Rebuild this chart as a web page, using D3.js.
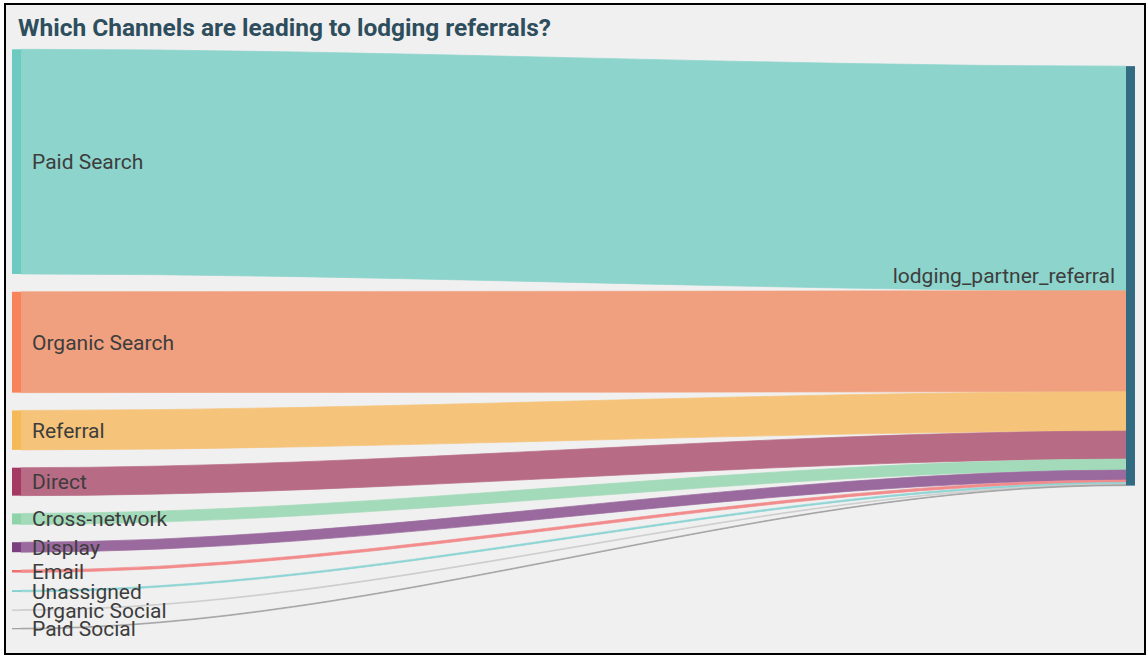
<!DOCTYPE html>
<html>
<head>
<meta charset="utf-8">
<script src="https://cdn.jsdelivr.net/npm/d3@7"></script>
<style>
  html, body { margin: 0; padding: 0; background: #ffffff; }
  svg { display: block; }
  text { font-family: Roboto, "Noto Sans", sans-serif; }
</style>
</head>
<body>
<svg id="chart" width="1147" height="656"></svg>
<script>
// ---- data ----
const title = "Which Channels are leading to lodging referrals?";
const channels = ["Paid Search", "Organic Search", "Referral", "Direct", "Cross-network",
                  "Display", "Email", "Unassigned", "Organic Social", "Paid Social"];
const values = [2250, 1010, 395, 280, 110, 100, 25, 15, 8, 8];
const targetName = "lodging_partner_referral";
const nodeColors = ["#6ccac1", "#f7845a", "#f5b957", "#a43a63", "#8fd3a8",
                    "#7b3f80", "#f07070", "#6cc9cb", "#bdbdbd", "#8e8e8e"];
const linkColors = ["#8dd4cc", "#f0a07e", "#f5c37a", "#b76b85", "#a3dab9",
                    "#9a6a9e", "#f28b8b", "#8ed4d4", "#cbcbcb", "#a0a0a0"];
const targetColor = "#336b82";

// ---- layout ----
const svg = d3.select("#chart");

svg.append("rect").attr("x", 5).attr("y", 4).attr("width", 1140).attr("height", 650)
  .attr("fill", "#f0f0f0").attr("stroke", "#000").attr("stroke-width", 2);

svg.append("text").attr("x", 18).attr("y", 36)
  .attr("font-size", 24.5).attr("font-weight", 700).attr("fill", "#2e4e5d")
  .text(title);

const extentTop = 49.3, extentBottom = 629, pad = 17.8, nodeW = 9;
const x = d3.scaleLinear().domain([0, 1]).range([12, 1126]);
const n = channels.length;
const total = d3.sum(values);
const ky = (extentBottom - extentTop - pad * (n - 1)) / total;
const h = d3.scaleLinear().domain([0, total]).range([0, total * ky]);

let yCur = extentTop;
const nodes = channels.map((name, i) => {
  const node = { name, i, x0: x(0), x1: x(0) + nodeW, y0: yCur, y1: yCur + h(values[i]) };
  yCur = node.y1 + pad;
  return node;
});

// target node: weighted fixed point (links as horizontal as possible)
let off = 0, acc = 0, wsum = 0;
nodes.forEach((nd, i) => {
  const w = h(values[i]);
  acc += w * (nd.y0 - off);
  wsum += w;
  off += w;
});
const tY0 = acc / wsum;
const tNode = { name: targetName, x0: x(1), x1: x(1) + nodeW, y0: tY0, y1: tY0 + h(total) };

let tOff = tNode.y0;
const links = nodes.map((nd, i) => {
  const w = h(values[i]);
  const l = { i, sx: nd.x1, tx: tNode.x0, sy0: nd.y0, sy1: nd.y1, ty0: tOff, ty1: tOff + w, w };
  tOff += w;
  return l;
});

function linkPath(l) {
  const dx = l.tx - l.sx;
  const c1 = l.sx + dx / 3, c2 = l.sx + 2 * dx / 3;
  const p = d3.path();
  p.moveTo(l.sx, l.sy0);
  p.bezierCurveTo(c1, l.sy0, c2, l.ty0, l.tx, l.ty0);
  p.lineTo(l.tx, l.ty1);
  p.bezierCurveTo(c2, l.ty1, c1, l.sy1, l.sx, l.sy1);
  p.closePath();
  return p.toString();
}

svg.append("g").selectAll("path").data(links).join("path")
  .attr("d", linkPath)
  .attr("fill", d => linkColors[d.i])
  .attr("stroke", d => linkColors[d.i])
  .attr("stroke-width", 0.7);

svg.append("g").selectAll("rect").data(nodes).join("rect")
  .attr("x", d => d.x0).attr("y", d => d.y0)
  .attr("width", d => d.x1 - d.x0).attr("height", d => Math.max(1, d.y1 - d.y0))
  .attr("fill", (d, i) => nodeColors[i]);

svg.append("rect").attr("x", tNode.x0).attr("y", tNode.y0)
  .attr("width", nodeW).attr("height", tNode.y1 - tNode.y0).attr("fill", targetColor);

svg.append("g").selectAll("text").data(nodes).join("text")
  .attr("x", d => d.x1 + 11).attr("y", d => (d.y0 + d.y1) / 2)
  .attr("dy", "0.36em").attr("font-size", 21).attr("fill", "#3d3d3d")
  .text(d => d.name);

svg.append("text").attr("x", tNode.x0 - 11).attr("y", (tNode.y0 + tNode.y1) / 2)
  .attr("dy", "0.36em").attr("text-anchor", "end").attr("font-size", 21).attr("fill", "#3d3d3d")
  .text(tNode.name);
</script>
</body>
</html>
